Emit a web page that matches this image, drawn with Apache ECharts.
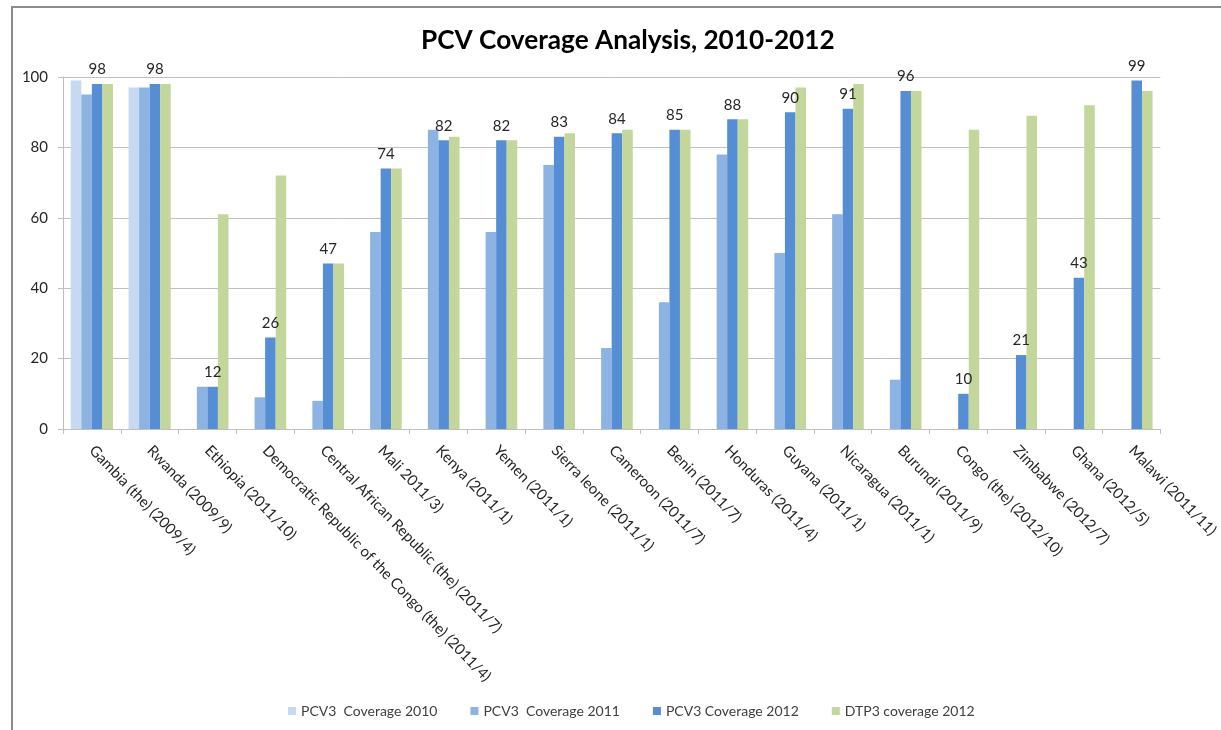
<!DOCTYPE html>
<html>
<head>
    <meta charset="utf-8">
    <title>PCV Coverage Analysis, 2010-2012</title>
    <script src="https://cdn.jsdelivr.net/npm/echarts@6/dist/echarts.min.js"></script>
    <style>
        * {
            margin: 0;
            padding: 0;
        }
        html, body {
            background: #fff;
        }
        #main {
            width: 1221px;
            height: 730px;
        }
    </style>
</head>
<body>
<div id="main"></div>
<script>
    var countries = [
        'Gambia (the) (2009/4)', 'Rwanda (2009/9)', 'Ethiopia (2011/10)',
        'Democratic Republic of the Congo (the) (2011/4)',
        'Central African Republic (the) (2011/7)', 'Mali 2011/3)',
        'Kenya (2011/1)', 'Yemen (2011/1)', 'Sierra leone (2011/1)',
        'Cameroon (2011/7)', 'Benin (2011/7)', 'Honduras (2011/4)',
        'Guyana (2011/1)', 'Nicaragua (2011/1)', 'Burundi (2011/9)',
        'Congo (the) (2012/10)', 'Zimbabwe (2012/7)', 'Ghana (2012/5)',
        'Malawi (2011/11)'
    ];
    var pcv2010 = [99, 97, null, null, null, null, null, null, null, null, null, null, null, null, null, null, null, null, null];
    var pcv2011 = [95, 97, 12, 9, 8, 56, 85, 56, 75, 23, 36, 78, 50, 61, 14, null, null, null, null];
    var pcv2012 = [98, 98, 12, 26, 47, 74, 82, 82, 83, 84, 85, 88, 90, 91, 96, 10, 21, 43, 99];
    var dtp2012 = [98, 98, 61, 72, 47, 74, 83, 82, 84, 85, 85, 88, 97, 98, 96, 85, 89, 92, 96];

    var seriesNames = ['PCV3  Coverage 2010', 'PCV3  Coverage 2011', 'PCV3 Coverage 2012', 'DTP3 coverage 2012'];
    var colors = ['#c6d9f1', '#8db3e2', '#558ed5', '#c3d69b'];
    var font = 'Lato, "Open Sans", sans-serif';

    var chart = echarts.init(document.getElementById('main'));

    function barSeries(i, data, labelled) {
        return {
            name: seriesNames[i],
            type: 'bar',
            data: data,
            barGap: '0%',
            barCategoryGap: '27%',
            itemStyle: {color: colors[i]},
            label: {
                show: labelled,
                position: 'top',
                distance: 7,
                color: '#262626',
                fontFamily: font,
                fontSize: 15
            }
        };
    }

    var option = {
        backgroundColor: '#fff',
        animation: false,
        color: colors,
        title: {
            text: 'PCV Coverage Analysis, 2010-2012',
            left: 416,
            top: 23,
            textStyle: {
                fontFamily: font,
                fontWeight: 'bold',
                fontSize: 26.2,
                color: '#000'
            }
        },
        legend: {
            bottom: 7,
            left: 283,
            itemWidth: 8,
            itemHeight: 8,
            itemGap: 33,
            icon: 'rect',
            textStyle: {fontFamily: font, fontSize: 14, color: '#404040'},
            data: seriesNames
        },
        grid: {
            left: 63,
            right: 56,
            top: 77,
            bottom: 301
        },
        xAxis: {
            type: 'category',
            data: countries,
            axisLine: {lineStyle: {color: '#bfbfbf', width: 1}},
            axisTick: {show: true, length: 5, lineStyle: {color: '#bfbfbf'}},
            axisLabel: {
                rotate: -46,
                interval: 0,
                margin: 19,
                fontFamily: font,
                fontSize: 15,
                color: '#262626'
            }
        },
        yAxis: {
            type: 'value',
            min: 0,
            max: 100,
            interval: 20,
            axisLine: {show: true, lineStyle: {color: '#bfbfbf'}},
            axisTick: {show: true, length: 5, lineStyle: {color: '#bfbfbf'}},
            axisLabel: {
                margin: 15,
                fontFamily: font,
                fontSize: 15,
                color: '#262626'
            },
            splitLine: {lineStyle: {color: '#c0c0c0'}}
        },
        graphic: [
            {
                type: 'polyline',
                shape: {points: [[12, 730], [12, 7], [1221, 7]]},
                style: {stroke: '#8c8c8c', lineWidth: 2, fill: null},
                silent: true
            }
        ],
        series: [
            barSeries(0, pcv2010, false),
            barSeries(1, pcv2011, false),
            barSeries(2, pcv2012, true),
            barSeries(3, dtp2012, false)
        ]
    };
    chart.setOption(option);
</script>
</body>
</html>
